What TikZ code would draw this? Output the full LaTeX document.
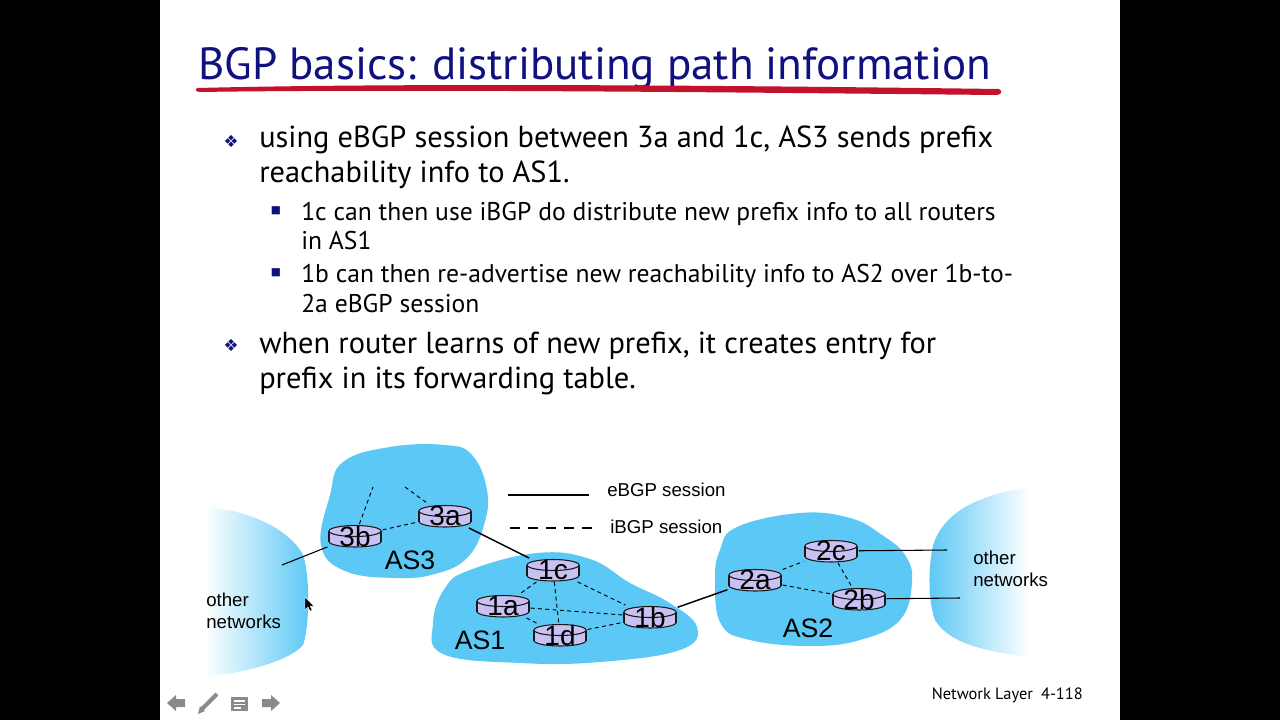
\documentclass[tikz,border=0pt]{standalone}
\usepackage{fontspec}
\setmainfont{PT Sans}
\newfontfamily\arialfont{Liberation Sans}
\newfontfamily\symbolfont{DejaVu Sans}
\definecolor{slideNavy}{HTML}{10107F}
\definecolor{slideRed}{HTML}{C3122E}
\definecolor{asBlue}{HTML}{5BC8F5}
\definecolor{routerLilac}{HTML}{CAC1F3}
\definecolor{navGray}{HTML}{8A8A8A}

\begin{document}
\begin{tikzpicture}[x=0.75pt, y=-0.75pt, every node/.style={inner sep=0pt},
    bodytext/.style={anchor=base west, font=\fontsize{22.8}{27}\selectfont},
    subtext/.style={anchor=base west, font=\fontsize{19.2}{23}\selectfont},
    dbullet/.style={text=slideNavy, font=\symbolfont\fontsize{12.5}{12.5}\selectfont},
    sbullet/.style={text=slideNavy, font=\symbolfont\fontsize{8}{8}\selectfont},
    aslabel/.style={font=\arialfont\fontsize{20}{20}\selectfont},
    netlabel/.style={anchor=west, align=left, font=\arialfont\fontsize{14}{16.5}\selectfont},
    ebgp/.style={line width=1.1pt},
    ibgp/.style={line width=0.7pt, dash pattern=on 3pt off 2.5pt},
    router/.style={minimum width=41pt, minimum height=17.5pt,
      font=\arialfont\fontsize{21}{21}\selectfont,
      path picture={
        \coordinate (rc) at (path picture bounding box.center);
        \filldraw[fill=routerLilac, draw=black!90, line width=0.8pt] (rc) ++(0,5.5) ellipse [x radius=26, y radius=5.5];
        \fill[routerLilac] (rc) ++(-26,-5) rectangle ++(52,10.5);
        \draw[black!90, line width=0.8pt] (rc) ++(-26,-5) -- ++(0,10.5) (rc) ++(26,-5) -- ++(0,10.5);
        \filldraw[fill=routerLilac, draw=black!90, line width=0.8pt] (rc) ++(0,-5) ellipse [x radius=26, y radius=5.5];
      }}]
  \useasboundingbox (0,0) rectangle (1280,720);
  \fill[black] (0,0) rectangle (1280,720);
  \fill[white] (160,0) rectangle (1120,720);

  % title
  \node[anchor=base west, text=slideNavy, font=\fontsize{33.8}{40}\selectfont] (title) at (198,80)
    {BGP basics: distributing path information};
  \fill[slideRed] (197,88) .. controls (400,83) and (700,85) .. (999,89)
    .. controls (1003,91) and (1002,95) .. (995,95)
    .. controls (700,92) and (400,89) .. (199,92) .. controls (195,91) and (195,89) .. cycle;

  % bullets
  \node[dbullet] (d1) at (231,141) {❖};
  \node[bodytext] (b1a) at (259,148) {using eBGP session between 3a and 1c, AS3 sends prefix};
  \node[bodytext] (b1b) at (259,183) {reachability info to AS1.};
  \node[sbullet] (s1) at (276,211) {■};
  \node[subtext] (b2a) at (301,220) {1c can then use iBGP do distribute new prefix info to all routers};
  \node[subtext] (b2b) at (301,249) {in AS1};
  \node[sbullet] (s2) at (276,273) {■};
  \node[subtext] (b3a) at (301,282) {1b can then re-advertise new reachability info to AS2 over 1b-to-};
  \node[subtext] (b3b) at (301,312) {2a eBGP session};
  \node[dbullet] (d2) at (231,345) {❖};
  \node[bodytext] (b4a) at (259,353) {when router learns of new prefix, it creates entry for};
  \node[bodytext] (b4b) at (259,388) {prefix in its forwarding table.};

  % other networks
  \shade[left color=white, right color=asBlue] (205,507) .. controls (250,510) and (290,530) .. (303,555)
    .. controls (310,575) and (310,625) .. (303,645) .. controls (290,660) and (250,672) .. (205,677) -- cycle;
  \shade[left color=asBlue, right color=white] (1030,487) .. controls (980,495) and (945,510) .. (933,545)
    .. controls (928,570) and (928,600) .. (935,620) .. controls (950,645) and (990,652) .. (1030,657) -- cycle;

  % autonomous systems
  \fill[asBlue] plot[smooth cycle, tension=0.7] coordinates {(321,545) (330,495) (343,462) (390,447) (445,445)
    (472,455) (487,490) (484,525) (467,558) (435,574) (395,578) (345,571)};
  \fill[asBlue] plot[smooth cycle, tension=0.7] coordinates {(433,623) (445,588) (470,570) (537,553) (590,559)
    (630,583) (668,602) (697,627) (680,650) (600,662) (520,663) (443,654)};
  \fill[asBlue] plot[smooth cycle, tension=0.7] coordinates {(715,580) (720,550) (737,527) (800,513) (850,518)
    (882,535) (905,555) (912,582) (900,620) (860,640) (810,646) (750,640) (721,624)};

  % routers
  \node[router] (r3b) at (355,536) {3b};
  \node[router] (r3a) at (445,516) {3a};
  \node[router] (r1c) at (553,570) {1c};
  \node[router] (r1a) at (503,606) {1a};
  \node[router] (r1d) at (560,635) {1d};
  \node[router] (r1b) at (650,617) {1b};
  \node[router] (r2a) at (755,580) {2a};
  \node[router] (r2c) at (831,551) {2c};
  \node[router] (r2b) at (859,599) {2b};

  \coordinate (u3b) at (373,487);
  \coordinate (u3a) at (405,487);
  \coordinate (o3b) at (282,565);
  \coordinate (o2c) at (947,550);
  \coordinate (o2b) at (960,598);

  % sessions
  \draw[ibgp] (r3b) -- (u3b);
  \draw[ibgp] (u3a) -- (r3a);
  \draw[ibgp] (r3b) -- (r3a);
  \draw[ibgp] (r1c) -- (r1a);
  \draw[ibgp] (r1c) -- (r1d);
  \draw[ibgp] (r1c) -- (r1b);
  \draw[ibgp] (r1a) -- (r1b);
  \draw[ibgp] (r1a) -- (r1d);
  \draw[ibgp] (r1d) -- (r1b);
  \draw[ibgp] (r2a) -- (r2c);
  \draw[ibgp] (r2a) -- (r2b);
  \draw[ibgp] (r2c) -- (r2b);
  \draw[ebgp] (r3a) -- (r1c);
  \draw[ebgp] (r1b) -- (r2a);
  \draw[line width=0.8pt] (r3b) -- (o3b);
  \draw[line width=0.8pt] (r2c) -- (o2c);
  \draw[line width=0.8pt] (r2b) -- (o2b);

  % labels
  \node[aslabel] (as3) at (410,560) {AS3};
  \node[aslabel] (as1) at (480,640) {AS1};
  \node[aslabel] (as2) at (808,628) {AS2};
  \node[netlabel] (netl) at (206,611) {other\\networks};
  \node[netlabel] (netr) at (973,569) {other\\networks};

  % legend
  \coordinate (le1) at (508,495);
  \coordinate (le2) at (589,495);
  \coordinate (li1) at (510,528);
  \coordinate (li2) at (592,528);
  \draw[line width=1.9pt] (le1) -- (le2);
  \draw[line width=1.5pt, dash pattern=on 7.5pt off 6pt] (li1) -- (li2);
  \node[netlabel] (leg1) at (607,490) {eBGP session};
  \node[netlabel] (leg2) at (610,527) {iBGP session};

  % footer
  \node[anchor=base east, font=\fontsize{12.3}{12.3}\selectfont] (foot) at (1083,699) {Network Layer\enspace 4-118};
  \fill[navGray] (167,703) -- (176,695) -- (176,699) -- (185,699) -- (185,707) -- (176,707) -- (176,711) -- cycle;
  \draw[navGray, line width=3pt] (202,709) -- (217,694);
  \fill[navGray] (198,714) -- (200,706) -- (205,711) -- cycle;
  \fill[navGray] (231,697) rectangle (248,711);
  \draw[white, line width=1pt] (234,701) -- (245,701) (234,704.5) -- (245,704.5) (234,708) -- (241,708);
  \fill[navGray] (280,703) -- (271,695) -- (271,699) -- (262,699) -- (262,707) -- (271,707) -- (271,711) -- cycle;
  \fill[black, draw=white, line width=0.3pt] (305,597) -- (305,610) -- (308,607) -- (310,611) -- (312,610)
    -- (310,606) -- (314,606) -- cycle;
\end{tikzpicture}
\end{document}
